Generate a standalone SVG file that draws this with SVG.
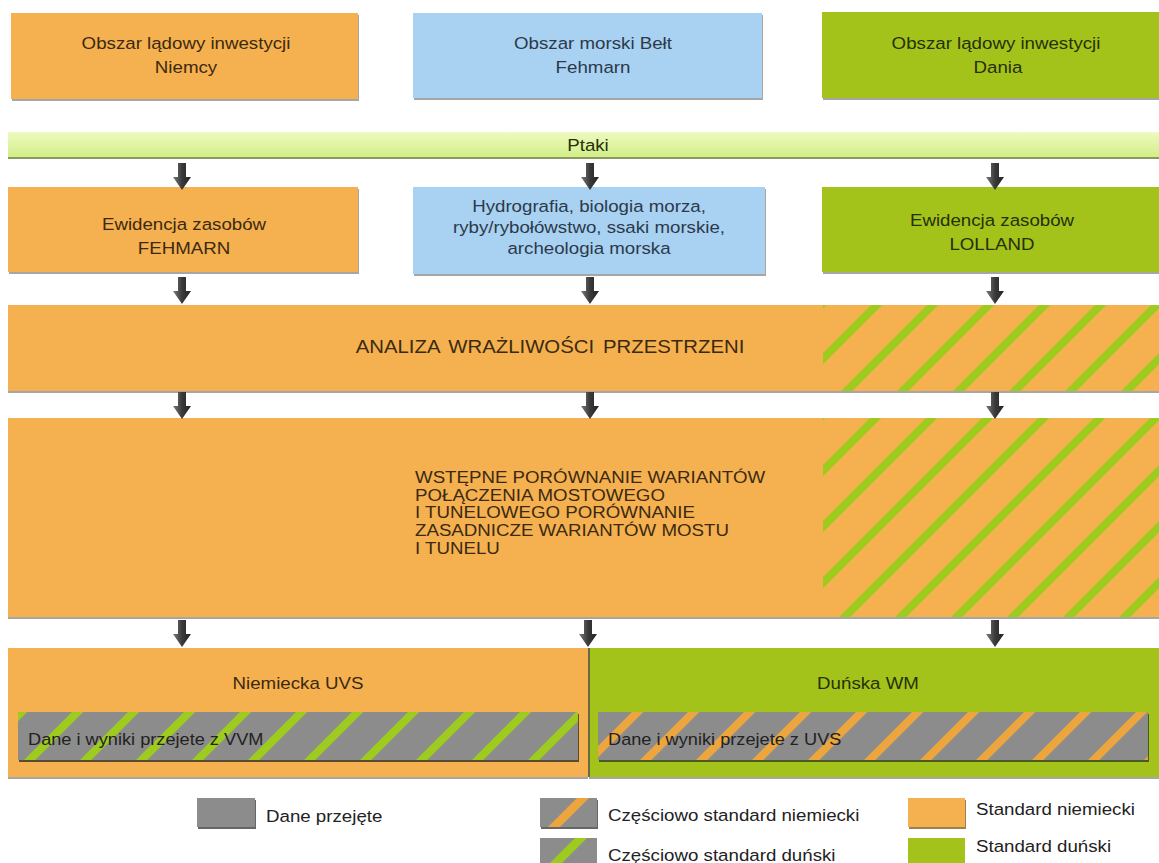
<svg xmlns="http://www.w3.org/2000/svg" width="1159" height="863" viewBox="0 0 1159 863">
<style>
  text { font-family: "Liberation Sans", Arial, sans-serif; font-size: 17px; }
  .c { text-anchor: middle; }
  .to { fill: #3b2a10; }
  .tb { fill: #2b3a4a; }
  .tg { fill: #263008; }
  .or { fill: #F5B050; }
  .bl { fill: #A9D1F2; }
  .gr { fill: #A3C31B; }
  .gy { fill: #8C8C8C; }
  .sh { fill: #000; opacity: 0.35; }
  .leg { fill: #222; }
  .inner { fill: #222; }
  .big { font-size: 18.5px; word-spacing: 3px; }
</style>
<defs>
  <linearGradient id="arrG" x1="0" y1="0" x2="1" y2="0">
    <stop offset="0" stop-color="#7a7a7a"/>
    <stop offset="0.5" stop-color="#3a3a3a"/>
    <stop offset="1" stop-color="#222"/>
  </linearGradient>
  <linearGradient id="ptG" x1="0" y1="0" x2="0" y2="1">
    <stop offset="0" stop-color="#EEFAC0"/>
    <stop offset="1" stop-color="#D2EE88"/>
  </linearGradient>
  <path id="arrow" d="M-4 0 h8 v14 h5 l-9 13 l-9 -13 h5 z" fill="url(#arrG)"/>
  <pattern id="stG" width="39.6" height="40" patternUnits="userSpaceOnUse" patternTransform="rotate(45)">
    <rect x="0" y="0" width="8" height="40" fill="#9DCB1E"/>
  </pattern>
  <pattern id="stO" width="39.6" height="40" patternUnits="userSpaceOnUse" patternTransform="rotate(45)">
    <rect x="0" y="0" width="8" height="40" fill="#EDA63E"/>
  </pattern>
  <clipPath id="cl1"><rect x="540" y="798" width="57" height="29"/></clipPath>
  <clipPath id="cl2"><rect x="540" y="838" width="57" height="25"/></clipPath>
</defs>

<rect width="1159" height="863" fill="#fff"/>

<g id="n-de-land">
  <rect class="sh" x="12" y="15" width="347" height="86"/>
  <rect class="or" x="11" y="13" width="347" height="86"/>
  <text class="c to" transform="translate(186 49) scale(1.1 1)">Obszar lądowy inwestycji</text>
  <text class="c to" transform="translate(186 73) scale(1.1 1)">Niemcy</text>
</g>
<g id="n-sea">
  <rect class="sh" x="414" y="15" width="349" height="85"/>
  <rect class="bl" x="413" y="13" width="349" height="85"/>
  <text class="c tb" transform="translate(593 49) scale(1.1 1)">Obszar morski Bełt</text>
  <text class="c tb" transform="translate(593 73) scale(1.1 1)">Fehmarn</text>
</g>
<g id="n-dk-land">
  <rect class="sh" x="823" y="14" width="336" height="86"/>
  <rect class="gr" x="822" y="12" width="337" height="86"/>
  <text class="c tg" transform="translate(996 49) scale(1.1 1)">Obszar lądowy inwestycji</text>
  <text class="c tg" transform="translate(998 73) scale(1.1 1)">Dania</text>
</g>

<g id="n-ptaki">
  <rect x="8" y="133" width="1151" height="26" fill="#8a9a60"/>
  <rect x="8" y="132" width="1151" height="25" fill="url(#ptG)"/>
  <text class="c tg" transform="translate(588 151) scale(1.1 1)">Ptaki</text>
</g>

<g id="n-fehmarn">
  <rect class="sh" x="9" y="189" width="350" height="85"/>
  <rect class="or" x="8" y="187" width="350" height="85"/>
  <text class="c to" transform="translate(184 230) scale(1.1 1)">Ewidencja zasobów</text>
  <text class="c to" transform="translate(184 254) scale(1.1 1)">FEHMARN</text>
</g>
<g id="n-hydro">
  <rect class="sh" x="414" y="189" width="352" height="87"/>
  <rect class="bl" x="413" y="187" width="352" height="87"/>
  <text class="c tb" transform="translate(589 212) scale(1.1 1)">Hydrografia, biologia morza,</text>
  <text class="c tb" transform="translate(589 233) scale(1.1 1)">ryby/rybołówstwo, ssaki morskie,</text>
  <text class="c tb" transform="translate(589 254) scale(1.1 1)">archeologia morska</text>
</g>
<g id="n-lolland">
  <rect class="sh" x="823" y="189" width="336" height="85"/>
  <rect class="gr" x="822" y="187" width="337" height="85"/>
  <text class="c tg" transform="translate(992 226) scale(1.1 1)">Ewidencja zasobów</text>
  <text class="c tg" transform="translate(992 250) scale(1.1 1)">LOLLAND</text>
</g>

<g id="n-analiza">
  <rect class="sh" x="8" y="307" width="1151" height="86"/>
  <rect class="or" x="8" y="305" width="1151" height="86"/>
  <rect x="823" y="305" width="336" height="86" fill="url(#stG)"/>
  <text class="c to big" transform="translate(550 353) scale(1.1 1)">ANALIZA WRAŻLIWOŚCI PRZESTRZENI</text>
</g>

<g id="n-warianty">
  <rect class="sh" x="8" y="420" width="1151" height="199"/>
  <rect class="or" x="8" y="418" width="1151" height="199"/>
  <rect x="823" y="418" width="336" height="199" fill="url(#stG)"/>
  <text class="to" transform="translate(415 483) scale(1.1 1)">WSTĘPNE PORÓWNANIE WARIANTÓW</text>
  <text class="to" transform="translate(415 501) scale(1.1 1)">POŁĄCZENIA MOSTOWEGO</text>
  <text class="to" transform="translate(415 518) scale(1.1 1)">I TUNELOWEGO PORÓWNANIE</text>
  <text class="to" transform="translate(415 536) scale(1.1 1)">ZASADNICZE WARIANTÓW MOSTU</text>
  <text class="to" transform="translate(415 554) scale(1.1 1)">I TUNELU</text>
</g>

<g id="n-uvs">
  <rect class="sh" x="8" y="650" width="580" height="129"/>
  <rect class="or" x="8" y="648" width="580" height="129"/>
  <text class="c to" transform="translate(298 689) scale(1.1 1)">Niemiecka UVS</text>
  <g id="n-uvs-data">
    <rect x="19" y="714" width="560" height="48" fill="#5a4a30"/>
    <rect class="gy" x="18" y="712" width="560" height="48"/>
    <rect x="18" y="712" width="560" height="48" fill="url(#stG)"/>
    <text class="inner" transform="translate(28 745) scale(1.07 1)">Dane i wyniki przejete z VVM</text>
  </g>
</g>
<g id="n-wm">
  <rect class="sh" x="589" y="650" width="570" height="129"/>
  <rect class="gr" x="588" y="648" width="571" height="129"/>
  <rect x="588" y="648" width="2" height="129" fill="#6a6a40"/>
  <text class="c tg" transform="translate(868 689) scale(1.1 1)">Duńska WM</text>
  <g id="n-wm-data">
    <rect x="599" y="714" width="550" height="48" fill="#4a5a20"/>
    <rect class="gy" x="598" y="712" width="550" height="48"/>
    <rect x="598" y="712" width="550" height="48" fill="url(#stO)"/>
    <text class="inner" transform="translate(608 745) scale(1.07 1)">Dane i wyniki przejete z UVS</text>
  </g>
</g>

<g id="connectors">
  <use href="#arrow" x="182" y="163"/>
  <use href="#arrow" x="590" y="163"/>
  <use href="#arrow" x="995" y="163"/>
  <use href="#arrow" x="182" y="277"/>
  <use href="#arrow" x="590" y="277"/>
  <use href="#arrow" x="995" y="277"/>
  <use href="#arrow" x="182" y="392"/>
  <use href="#arrow" x="590" y="392"/>
  <use href="#arrow" x="995" y="392"/>
  <use href="#arrow" x="182" y="620"/>
  <use href="#arrow" x="588" y="620"/>
  <use href="#arrow" x="995" y="620"/>
</g>

<g id="legend">
  <g id="leg-data">
    <rect x="198" y="800" width="58" height="29" fill="#666"/>
    <rect class="gy" x="197" y="798" width="58" height="29"/>
    <text class="leg" transform="translate(266 822) scale(1.1 1)">Dane przejęte</text>
  </g>
  <g id="leg-part-de">
    <rect x="541" y="800" width="57" height="29" fill="#666"/>
    <rect class="gy" x="540" y="798" width="57" height="29"/>
    <polygon clip-path="url(#cl1)" points="548,827 560,827 589,798 577,798" fill="#EDA63E"/>
    <text class="leg" transform="translate(608 821) scale(1.1 1)">Częściowo standard niemiecki</text>
  </g>
  <g id="leg-part-dk">
    <rect class="gy" x="540" y="838" width="57" height="25"/>
    <polygon clip-path="url(#cl2)" points="550,863 562,863 587,838 575,838" fill="#9DCB1E"/>
    <text class="leg" transform="translate(608 861) scale(1.1 1)">Częściowo standard duński</text>
  </g>
  <g id="leg-de">
    <rect x="909" y="800" width="57" height="29" fill="#a08050"/>
    <rect class="or" x="908" y="798" width="57" height="29"/>
    <text class="leg" transform="translate(976 815) scale(1.1 1)">Standard niemiecki</text>
  </g>
  <g id="leg-dk">
    <rect class="gr" x="908" y="838" width="57" height="25"/>
    <text class="leg" transform="translate(976 852) scale(1.1 1)">Standard duński</text>
  </g>
</g>
</svg>
